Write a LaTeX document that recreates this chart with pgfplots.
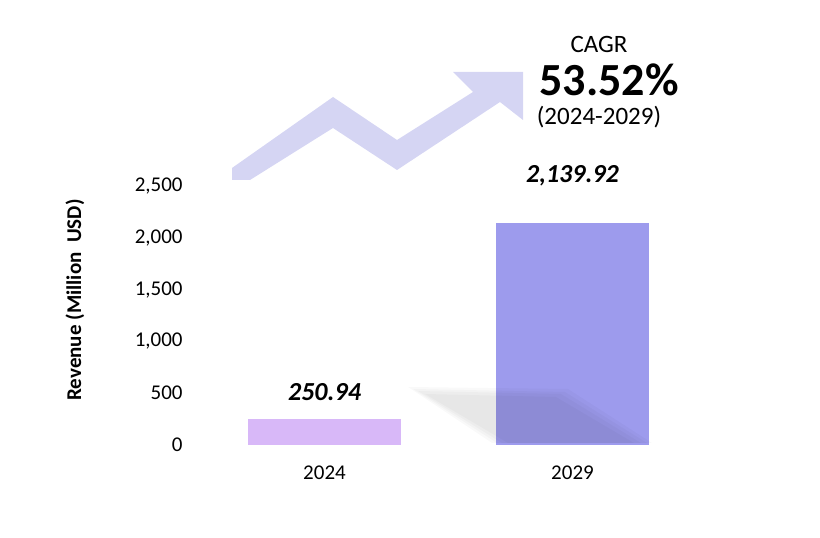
\documentclass[border=0pt]{standalone}
\usepackage{fontspec}
\setmainfont{Carlito}
\usepackage{pgfplots}
\pgfplotsset{compat=1.18}
\definecolor{barA}{RGB}{216,184,248}
\definecolor{barB}{RGB}{157,155,237}
\definecolor{arrowc}{RGB}{213,213,243}
\begin{document}
\begin{tikzpicture}[x=1pt,y=1pt]
\path (0,0) rectangle (820,538);
% decorative arrow
\fill[arrowc] (232,370) -- (333,441) -- (397,398) -- (473,446) -- (453,466) -- (523,466) -- (523,418) -- (500,436) -- (397,368) -- (333,410) -- (250,358) -- (232,358) -- cycle;
\begin{axis}[
  at={(188.1pt,93pt)}, anchor=south west,
  scale only axis, width=520.8pt, height=259pt,
  xmin=-0.55, xmax=1.55, ymin=0, ymax=2500,
  axis line style={draw=none}, major tick length=0pt,
  xtick={0,1}, xticklabels={2024,2029},
  ytick={0,500,1000,1500,2000,2500},
  /pgf/number format/.cd, 1000 sep={,}, assume math mode=true,
  /pgfplots/.cd,
  ticklabel style={font=\fontsize{21}{25}\selectfont, text=black},
  xticklabel style={yshift=-17pt},
  yticklabel style={xshift=-2pt},
  clip=false,
  ybar, bar width=153pt,
]
\addplot[fill=barA, draw=none, bar shift=0pt] coordinates {(0,250.94)};
\addplot[fill=barB, draw=none, bar shift=0pt] coordinates {(1,2139.92)};
\node[font=\fontsize{26}{30}\selectfont\bfseries\itshape] at (axis cs:0,511) {250.94};
\node[font=\fontsize{26}{30}\selectfont\bfseries\itshape] at (axis cs:1,2597) {2,139.92};
\end{axis}
% soft shadow (layered)
\begin{scope}[shift={(0,0)}]
\fill[black, opacity=0.025] (408,151) -- (568,149) -- (652,95) -- (492,95) -- cycle;
\fill[black, opacity=0.025] (413,149) -- (565,146) -- (647,95) -- (497,95) -- cycle;
\fill[black, opacity=0.025] (418,147) -- (561,144) -- (641,95) -- (502,95) -- cycle;
\fill[black, opacity=0.025] (425,144) -- (556,141) -- (634,95) -- (508,95) -- cycle;
\end{scope}
% y label
\node[rotate=90, font=\fontsize{21}{25}\selectfont\bfseries] at (75,238) {Revenue (Million\ \ USD)};
% CAGR block
\node[font=\fontsize{25}{30}\selectfont] at (599,494) {CAGR};
\node[font=\fontsize{46}{50}\selectfont\bfseries] at (609,458) {53.52\%};
\node[font=\fontsize{25}{30}\selectfont] at (599,421) {(2024-2029)};
\end{tikzpicture}
\end{document}
